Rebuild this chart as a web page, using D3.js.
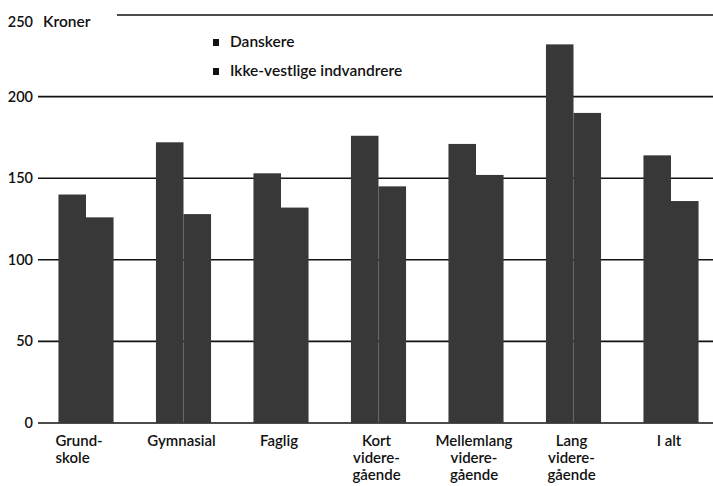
<!DOCTYPE html>
<html>
<head>
<meta charset="utf-8">
<script src="https://cdn.jsdelivr.net/npm/d3@7"></script>
<style>
  body { margin: 0; background: #fff; }
  text { font-family: Lato, "Open Sans", sans-serif; fill: #111; }
</style>
</head>
<body>
<div id="chart"></div>
<script>
var categories = [
  ["Grund-", "skole"],
  ["Gymnasial"],
  ["Faglig"],
  ["Kort", "videre-", "gående"],
  ["Mellemlang", "videre-", "gående"],
  ["Lang", "videre-", "gående"],
  ["I alt"]
];
var seriesNames = ["Danskere", "Ikke-vestlige indvandrere"];
var danskere = [140, 172, 153, 176, 171, 232, 164];
var indvandrere = [126, 128, 132, 145, 152, 190, 136];
var yTicks = [0, 50, 100, 150, 200, 250];

var w = 713;
var h = 486;

var svg = d3.select("#chart")
  .append("svg")
  .attr("width", w)
  .attr("height", h);

var catKeys = categories.map(function(d) { return d.join(""); });

var x0 = d3.scaleBand()
  .domain(catKeys)
  .range([37.25, 37.25 + 7 * 97.5])
  .paddingInner(0.435)
  .paddingOuter(0.2175);

var x1 = d3.scaleBand()
  .domain([0, 1])
  .range([0, x0.bandwidth()]);

var y = d3.scaleLinear()
  .domain([0, 250])
  .range([423, 15]);

// gridlines
svg.selectAll("line.grid")
  .data(yTicks)
  .enter()
  .append("line")
  .attr("class", "grid")
  .attr("x1", function(d) { return d == 250 ? 117 : 38; })
  .attr("x2", w)
  .attr("y1", function(d) { return y(d); })
  .attr("y2", function(d) { return y(d); })
  .attr("stroke", "#111")
  .attr("stroke-width", 1.6);

svg.selectAll("text.tick")
  .data(yTicks)
  .enter()
  .append("text")
  .attr("class", "tick")
  .attr("x", 33)
  .attr("y", function(d) { return d == 250 ? 22 : y(d); })
  .attr("dy", "0.35em")
  .attr("text-anchor", "end")
  .style("font-size", "14.5px")
  .style("font-weight", "600")
  .text(function(d) { return d; });

svg.append("text")
  .attr("x", 43)
  .attr("y", 22)
  .attr("dy", "0.35em")
  .style("font-size", "15.5px")
  .style("font-weight", "600")
  .text("Kroner");

// bars
var groups = svg.selectAll("g.group")
  .data(catKeys)
  .enter()
  .append("g")
  .attr("class", "group")
  .attr("transform", function(d) { return "translate(" + x0(d) + ",0)"; });

groups.selectAll("rect")
  .data(function(d, i) { return [danskere[i], indvandrere[i]]; })
  .enter()
  .append("rect")
  .attr("x", function(d, j) { return x1(j); })
  .attr("y", function(d) { return y(d); })
  .attr("width", x1.bandwidth())
  .attr("height", function(d) { return y(0) - y(d); })
  .attr("fill", "#383838");

// x labels, the first one is set flush left like in the print
var labels = svg.selectAll("text.xlabel")
  .data(categories)
  .enter()
  .append("text")
  .attr("class", "xlabel")
  .attr("x", function(d, i) {
    if (i == 0) return x0(catKeys[i]) - 3;
    return x0(catKeys[i]) + x0.bandwidth() / 2 - 2;
  })
  .attr("y", 446)
  .attr("text-anchor", function(d, i) { return i == 0 ? "start" : "middle"; })
  .style("font-size", "15px")
  .style("font-weight", "600");

labels.selectAll("tspan")
  .data(function(d) { return d; })
  .enter()
  .append("tspan")
  .attr("x", function() { return d3.select(this.parentNode).attr("x"); })
  .attr("dy", function(d, i) { return i == 0 ? 0 : 17; })
  .text(function(d) { return d; });

// legend
var legend = svg.selectAll("g.legend")
  .data(seriesNames)
  .enter()
  .append("g")
  .attr("class", "legend")
  .attr("transform", function(d, i) { return "translate(213," + (42 + i * 29) + ")"; });

legend.append("rect")
  .attr("x", 0)
  .attr("y", -3)
  .attr("width", 6)
  .attr("height", 7)
  .attr("fill", "#111");

legend.append("text")
  .attr("x", 17)
  .attr("y", 0)
  .attr("dy", "0.35em")
  .style("font-size", "15.5px")
  .style("font-weight", "600")
  .text(function(d) { return d; });
</script>
</body>
</html>
